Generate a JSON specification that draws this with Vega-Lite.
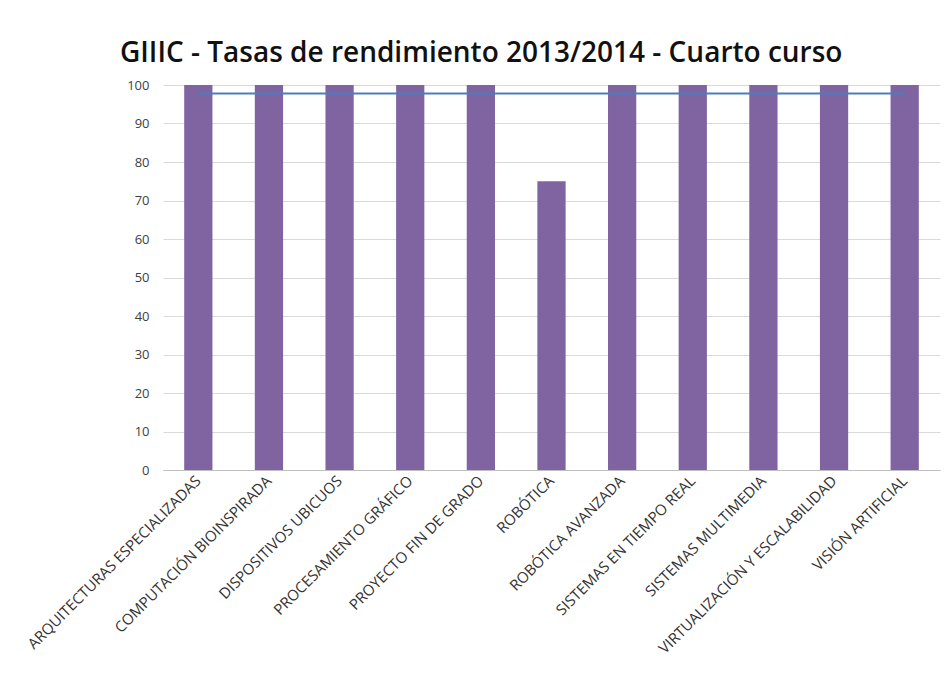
{
  "$schema": "https://vega.github.io/schema/vega-lite/v6.json",
  "autosize": "none",
  "width": 777,
  "height": 385,
  "padding": {"left": 163, "top": 85, "right": 5, "bottom": 216},
  "background": "white",
  "title": {
    "text": "GIIIC - Tasas de rendimiento 2013/2014 - Cuarto curso",
    "anchor": "start",
    "frame": "group",
    "dx": -43,
    "dy": 6,
    "offset": 17,
    "font": "Open Sans",
    "fontSize": 28,
    "fontWeight": 600,
    "color": "#111111"
  },
  "data": {
    "values": [
      {"asignatura": "ARQUITECTURAS ESPECIALIZADAS", "tasa": 100, "media": 97.8},
      {"asignatura": "COMPUTACIÓN BIOINSPIRADA", "tasa": 100, "media": 97.8},
      {"asignatura": "DISPOSITIVOS UBICUOS", "tasa": 100, "media": 97.8},
      {"asignatura": "PROCESAMIENTO GRÁFICO", "tasa": 100, "media": 97.8},
      {"asignatura": "PROYECTO FIN DE GRADO", "tasa": 100, "media": 97.8},
      {"asignatura": "ROBÓTICA", "tasa": 75, "media": 97.8},
      {"asignatura": "ROBÓTICA AVANZADA", "tasa": 100, "media": 97.8},
      {"asignatura": "SISTEMAS EN TIEMPO REAL", "tasa": 100, "media": 97.8},
      {"asignatura": "SISTEMAS MULTIMEDIA", "tasa": 100, "media": 97.8},
      {"asignatura": "VIRTUALIZACIÓN Y ESCALABILIDAD", "tasa": 100, "media": 97.8},
      {"asignatura": "VISIÓN ARTIFICIAL", "tasa": 100, "media": 97.8}
    ]
  },
  "encoding": {
    "x": {
      "field": "asignatura",
      "type": "nominal",
      "sort": null,
      "scale": {"paddingInner": 0.6, "paddingOuter": 0.3},
      "axis": {
        "title": null,
        "labelAngle": -45,
        "labelAlign": "right",
        "labelBaseline": "middle",
        "labelFont": "Open Sans",
        "labelFontSize": 15,
        "labelColor": "#333333",
        "labelLimit": 400,
        "labelPadding": 8,
        "ticks": false,
        "domainColor": "#BFBFBF",
        "grid": false
      }
    }
  },
  "layer": [
    {
      "mark": {"type": "bar", "color": "#8064A2"},
      "encoding": {
        "y": {
          "field": "tasa",
          "type": "quantitative",
          "scale": {"domain": [0, 100]},
          "axis": {
            "title": null,
            "values": [0, 10, 20, 30, 40, 50, 60, 70, 80, 90, 100],
            "labelOverlap": false,
            "labelFont": "Open Sans",
            "labelFontSize": 13,
            "labelColor": "#404040",
            "labelPadding": 14,
            "ticks": false,
            "domain": false,
            "gridColor": "#D9D9D9",
            "gridWidth": 1
          }
        }
      }
    },
    {
      "mark": {"type": "line", "color": "#4A7EBB", "strokeWidth": 2},
      "encoding": {
        "y": {
          "field": "media",
          "type": "quantitative",
          "axis": {
            "title": null,
            "values": [0, 10, 20, 30, 40, 50, 60, 70, 80, 90, 100],
            "labelOverlap": false,
            "labelFont": "Open Sans",
            "labelFontSize": 13,
            "labelColor": "#404040",
            "labelPadding": 14,
            "ticks": false,
            "domain": false,
            "gridColor": "#D9D9D9",
            "gridWidth": 1
          }
        }
      }
    }
  ],
  "config": {"view": {"stroke": null}}
}
